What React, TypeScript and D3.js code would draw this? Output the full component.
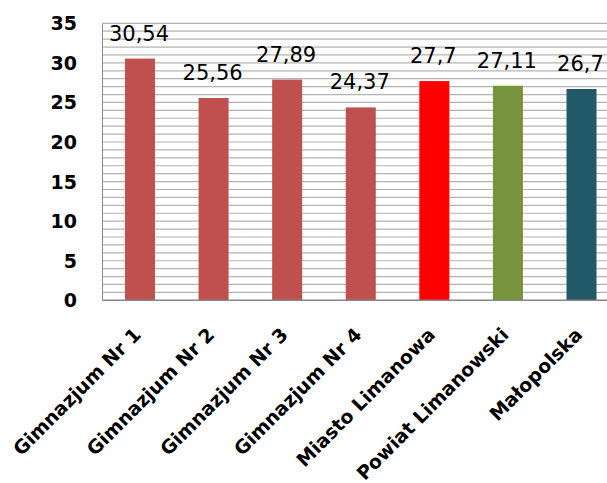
import React from "react";
import * as d3 from "d3";

const categories = [
  "Gimnazjum Nr 1",
  "Gimnazjum Nr 2",
  "Gimnazjum Nr 3",
  "Gimnazjum Nr 4",
  "Miasto Limanowa",
  "Powiat Limanowski",
  "Małopolska",
];
const values = [30.54, 25.56, 27.89, 24.37, 27.7, 27.11, 26.7];
const valueLabels = ["30,54", "25,56", "27,89", "24,37", "27,7", "27,11", "26,7"];
const barColors = ["#C0504D", "#C0504D", "#C0504D", "#C0504D", "#FF0000", "#77933C", "#215968"];
const yTicks = [0, 5, 10, 15, 20, 25, 30, 35];
const gridValues = d3.range(1, 36);

export default function App() {
  const W = 607;
  const H = 483;
  const left = 102.5;
  const top = 23.3;
  const bottom = 300.3;
  const x = d3
    .scaleBand<string>()
    .domain(categories)
    .range([103.2, 618.3])
    .paddingInner(0.592)
    .paddingOuter(0.296);
  const y = d3.scaleLinear().domain([0, 35]).range([bottom, top]);
  const font = "'DejaVu Sans', Verdana, sans-serif";

  return (
    <svg
      width={W}
      height={H}
      style={{ position: "absolute", left: 0, top: 0, background: "#fff" }}
    >
      <rect x={0} y={0} width={W} height={H} fill="#fff" />
      {gridValues.map((v) => (
        <line
          key={"g" + v}
          x1={left}
          x2={620}
          y1={y(v)}
          y2={y(v)}
          stroke="#b4b4b4"
          strokeWidth={1.2}
        />
      ))}
      <line x1={left} x2={left} y1={top} y2={bottom} stroke="#8c8c8c" strokeWidth={1} />
      {categories.map((c, i) => (
        <rect
          key={"b" + c}
          x={x(c)}
          y={y(values[i])}
          width={x.bandwidth()}
          height={bottom - y(values[i])}
          fill={barColors[i]}
        />
      ))}
      <line x1={left} x2={620} y1={bottom} y2={bottom} stroke="#868686" strokeWidth={1.5} />
      {yTicks.map((t) => (
        <text
          key={"t" + t}
          x={77}
          y={y(t)}
          textAnchor="end"
          dominantBaseline="central"
          fontFamily={font}
          fontWeight="bold"
          fontSize={19}
          fill="#000"
        >
          {t}
        </text>
      ))}
      {categories.map((c, i) => (
        <text
          key={"v" + c}
          x={(x(c) as number) + x.bandwidth() / 2 - 1}
          y={y(values[i]) - 18}
          textAnchor="middle"
          fontFamily={font}
          fontSize={21}
          fill="#000"
        >
          {valueLabels[i]}
        </text>
      ))}
      {categories.map((c) => {
        const cx = (x(c) as number) + x.bandwidth() / 2 + 2;
        return (
          <text
            key={"c" + c}
            transform={`translate(${cx},336) rotate(-45)`}
            textAnchor="end"
            fontFamily={font}
            fontWeight="bold"
            fontSize={19}
            fill="#000"
          >
            {c}
          </text>
        );
      })}
    </svg>
  );
}
